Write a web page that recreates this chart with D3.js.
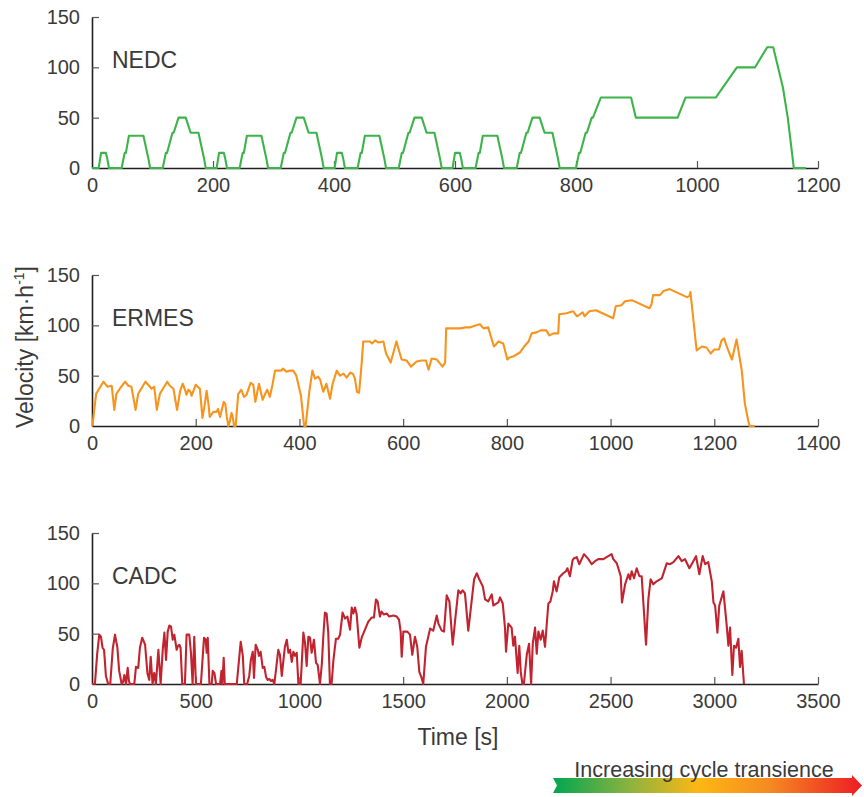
<!DOCTYPE html>
<html>
<head>
<meta charset="utf-8">
<script src="https://cdn.jsdelivr.net/npm/d3@7"></script>
<style>
  html, body { margin: 0; padding: 0; background: #fff; }
  svg { display: block; }
  text { font-family: "Liberation Sans", Arial, sans-serif; fill: #3a3a3a; }
</style>
</head>
<body>
<svg id="chart" width="864" height="797"></svg>
<script>
// ---------------- DATA ----------------
const cycleNames = ["NEDC", "ERMES", "CADC"];
const xMaxima = [1200, 1400, 3500];
const xTicksNEDC = [0, 200, 400, 600, 800, 1000, 1200];
const xTicksERMES = [0, 200, 400, 600, 800, 1000, 1200, 1400];
const xTicksCADC = [0, 500, 1000, 1500, 2000, 2500, 3000, 3500];
const yTicks = [0, 50, 100, 150];
const yMax = 150;
const xAxisTitle = "Time [s]";
const yAxisTitle = "Velocity [km·h";
const yAxisTitleSup = "-1";
const arrowLabel = "Increasing cycle transience";

// NEDC: [time s, speed km/h]
const nedc = [
  [0,0],[11,0],[15,15],[23,15],[25,10],[28,0],[49,0],[54,15],[56,15],[61,32],[85,32],[93,10],[96,0],
  [117,0],[122,15],[124,15],[133,35],[135,35],[143,50],[155,50],[163,35],[176,35],[185,10],[188,0],[195,0],
  [206,0],[210,15],[218,15],[220,10],[223,0],[244,0],[249,15],[251,15],[256,32],[280,32],[288,10],[291,0],
  [312,0],[317,15],[319,15],[328,35],[330,35],[338,50],[350,50],[358,35],[371,35],[380,10],[383,0],[390,0],
  [401,0],[405,15],[413,15],[415,10],[418,0],[439,0],[444,15],[446,15],[451,32],[475,32],[483,10],[486,0],
  [507,0],[512,15],[514,15],[523,35],[525,35],[533,50],[545,50],[553,35],[566,35],[575,10],[578,0],[585,0],
  [596,0],[600,15],[608,15],[610,10],[613,0],[634,0],[639,15],[641,15],[646,32],[670,32],[678,10],[681,0],
  [702,0],[707,15],[709,15],[718,35],[720,35],[728,50],[740,50],[748,35],[761,35],[770,10],[773,0],[780,0],
  [800,0],[805,15],[807,15],[816,35],[818,35],[826,50],[828,50],[841,70],[891,70],[899,50],[968,50],
  [981,70],[1031,70],[1066,100],[1096,100],[1116,120],[1126,120],[1142,80],[1150,50],[1160,0],[1180,0]
];

// ERMES: [time s, speed km/h]
const ermes = [
  [0,0],[1,1],[8,32],[15,38],[22,44],[30,39],[38,40],[43,16],[47,32],[55,38],[64,44],[70,40],[76,39],[84,16],
  [89,32],[96,38],[103,44],[110,40],[115,37],[120,39],[125,16],[131,32],[138,38],[145,44],[150,40],[157,37],
  [164,16],[170,35],[175,42],[180,35],[182,31],[186,36],[189,35],[192,30],[200,41],[208,37],[213,8],[217,20],
  [221,35],[225,20],[227,9],[234,14],[240,14],[243,17],[247,9],[254,24],[257,22],[260,9],[263,0],[266,5],
  [269,13],[271,10],[274,0],[277,0],[282,32],[288,36],[293,29],[298,31],[306,43],[311,41],[315,24],[322,42],
  [329,26],[335,33],[338,36],[343,29],[348,41],[353,55],[365,55],[368,57],[375,54],[382,55],[388,55],[394,50],
  [403,30],[409,0],[412,0],[419,34],[425,55],[430,47],[436,49],[440,46],[446,34],[452,42],[459,27],[464,42],
  [472,55],[478,50],[485,52],[491,48],[498,53],[503,52],[507,47],[511,34],[515,33],[520,62],[523,84],[536,84],
  [540,82],[546,85],[552,83],[562,84],[567,72],[576,63],[587,84],[597,66],[607,65],[615,59],[626,64],[636,65],
  [644,65],[649,56],[655,67],[665,66],[676,59],[681,63],[683,97],[710,97],[720,98],[730,98],[741,100],[748,101],
  [755,97],[764,98],[775,79],[784,84],[793,82],[801,66],[805,68],[812,69],[825,73],[835,80],[842,84],[848,92],
  [857,93],[865,95],[876,95],[882,90],[890,92],[899,92],[901,111],[915,112],[928,114],[935,109],[941,111],
  [946,113],[950,109],[959,114],[972,115],[1005,107],[1010,119],[1021,120],[1028,124],[1041,125],[1075,117],
  [1079,121],[1082,130],[1095,130],[1102,134],[1114,136],[1147,128],[1152,129],[1154,133],[1166,75],[1176,79],
  [1185,78],[1193,72],[1200,76],[1209,76],[1214,85],[1219,87],[1224,79],[1234,66],[1243,86],[1253,55],
  [1259,22],[1266,4],[1268,0],[1278,0]
];

// CADC: [time s, speed km/h]
const cadc = [
  [0,0],[14,0],[25,30],[35,49],[43,47],[51,36],[58,34],[63,20],[67,8],[78,0],[88,0],[100,35],[111,49],[117,42],
  [122,37],[131,13],[143,0],[150,2],[156,9],[160,5],[164,0],[172,16],[178,3],[183,0],[204,0],[212,17],[223,16],
  [231,36],[242,46],[250,42],[256,39],[267,11],[276,4],[283,27],[292,0],[300,11],[308,0],[320,34],[331,0],
  [341,34],[349,51],[357,24],[365,52],[373,58],[381,57],[389,44],[397,49],[408,34],[415,38],[421,39],[427,36],
  [435,0],[448,0],[456,49],[469,49],[477,31],[485,0],[493,47],[501,0],[525,0],[540,46],[548,44],[553,31],
  [558,46],[566,0],[577,0],[582,13],[590,11],[598,0],[617,0],[624,13],[628,0],[635,26],[640,0],[698,0],
  [706,18],[717,42],[727,28],[734,0],[748,0],[758,8],[766,24],[775,32],[781,6],[789,39],[799,34],[805,28],
  [813,32],[823,16],[831,17],[839,7],[847,4],[855,5],[863,3],[871,4],[879,0],[887,14],[898,34],[906,29],
  [915,8],[922,22],[930,37],[939,44],[947,31],[955,34],[963,22],[971,32],[979,28],[987,31],[995,0],[1006,0],
  [1019,51],[1027,41],[1035,18],[1043,47],[1051,46],[1059,31],[1070,44],[1080,21],[1088,19],[1099,0],[1108,20],
  [1115,47],[1123,71],[1131,70],[1139,51],[1147,0],[1155,0],[1164,24],[1176,45],[1187,45],[1196,49],[1208,71],
  [1220,65],[1231,67],[1244,54],[1252,76],[1260,70],[1268,76],[1276,69],[1289,36],[1300,46],[1316,54],
  [1332,62],[1348,66],[1359,66],[1369,84],[1377,82],[1388,67],[1396,72],[1407,69],[1421,70],[1433,67],
  [1453,68],[1469,67],[1480,64],[1488,52],[1493,27],[1501,52],[1520,52],[1533,49],[1544,29],[1557,47],
  [1568,37],[1578,12],[1589,6],[1597,0],[1610,37],[1630,55],[1645,53],[1662,68],[1670,60],[1686,53],
  [1697,52],[1710,88],[1723,82],[1739,39],[1750,62],[1766,93],[1777,90],[1787,93],[1798,90],[1814,53],
  [1825,73],[1842,104],[1855,110],[1867,104],[1884,97],[1895,84],[1910,82],[1927,89],[1935,78],[1951,80],
  [1959,81],[1967,86],[1980,80],[1991,56],[1996,32],[2007,60],[2023,56],[2031,38],[2039,47],[2052,11],
  [2060,38],[2067,12],[2075,0],[2082,0],[2096,29],[2107,40],[2117,0],[2125,40],[2136,56],[2144,30],[2152,52],
  [2163,44],[2173,53],[2184,37],[2200,80],[2210,82],[2221,92],[2227,102],[2240,92],[2253,106],[2272,110],
  [2285,112],[2292,115],[2304,107],[2317,123],[2324,125],[2337,126],[2349,119],[2372,129],[2393,124],
  [2409,119],[2425,122],[2441,124],[2465,124],[2481,126],[2505,129],[2513,124],[2530,120],[2549,107],
  [2555,81],[2570,99],[2586,109],[2594,104],[2602,112],[2613,105],[2626,115],[2639,107],[2650,107],[2671,39],
  [2682,84],[2693,104],[2706,99],[2722,102],[2747,105],[2771,120],[2787,119],[2803,121],[2827,127],[2843,122],
  [2859,124],[2880,115],[2891,119],[2912,127],[2928,109],[2944,127],[2956,119],[2971,121],[2988,102],
  [2996,81],[3004,78],[3015,51],[3024,78],[3044,92],[3060,58],[3068,38],[3076,56],[3087,9],[3095,38],
  [3105,36],[3116,45],[3124,17],[3132,33],[3143,0]
];

const seriesData = [nedc, ermes, cadc];
const seriesTicks = [xTicksNEDC, xTicksERMES, xTicksCADC];
const seriesColors = ["#3cb44b", "#f7941d", "#c1232f"];

// ---------------- LAYOUT ----------------
const svg = d3.select("#chart");
const left = 92, right = 818;
const panelTops = [17, 275, 533];
const panelHeight = 151;
const axisColor = "#231f20";

cycleNames.forEach((name, i) => {
  const top = panelTops[i];
  const x = d3.scaleLinear().domain([0, xMaxima[i]]).range([left, right]);
  const y = d3.scaleLinear().domain([0, yMax]).range([top + panelHeight, top]);

  const g = svg.append("g");

  const xa = g.append("g")
    .attr("transform", `translate(0,${top + panelHeight})`)
    .call(d3.axisBottom(x).tickValues(seriesTicks[i]).tickFormat(d3.format("d"))
      .tickSizeInner(-7).tickSizeOuter(0).tickPadding(10));
  const ya = g.append("g")
    .attr("transform", `translate(${left},0)`)
    .call(d3.axisLeft(y).tickValues(yTicks).tickFormat(d3.format("d"))
      .tickSizeInner(-7).tickSizeOuter(0).tickPadding(12));

  [xa, ya].forEach(a => {
    a.select(".domain").attr("stroke", axisColor).attr("stroke-width", 1.6);
    a.selectAll(".tick line").attr("stroke", "#555").attr("stroke-width", 1.2);
    a.selectAll(".tick text")
      .style("font-family", '"Liberation Sans", Arial, sans-serif')
      .style("font-size", "20px")
      .attr("fill", "#3a3a3a");
  });
  xa.selectAll(".tick").filter(d => d === 0).select("line").remove();
  ya.selectAll(".tick").filter(d => d === 0).select("line").remove();

  const line = d3.line().x(d => x(d[0])).y(d => y(d[1]));
  g.append("path")
    .datum(seriesData[i])
    .attr("fill", "none")
    .attr("stroke", seriesColors[i])
    .attr("stroke-width", 2.1)
    .attr("stroke-linejoin", "round")
    .attr("d", line);

  g.append("text")
    .attr("x", 112)
    .attr("y", top + 51)
    .style("font-size", "23px")
    .text(name);
});

// axis titles
svg.append("text")
  .attr("x", 458).attr("y", 745)
  .attr("text-anchor", "middle")
  .style("font-size", "23px")
  .text(xAxisTitle);

const yt = svg.append("text")
  .attr("transform", "translate(33,347) rotate(-90)")
  .attr("text-anchor", "middle")
  .style("font-size", "23px");
yt.append("tspan").text(yAxisTitle);
yt.append("tspan").attr("dy", -9).style("font-size", "14px").text(yAxisTitleSup);
yt.append("tspan").attr("dy", 9).text("]");

// transience arrow
const defs = svg.append("defs");
const grad = defs.append("linearGradient").attr("id", "transGrad")
  .attr("x1", "0%").attr("x2", "100%").attr("y1", "0%").attr("y2", "0%");
grad.append("stop").attr("offset", "0%").attr("stop-color", "#00a651");
grad.append("stop").attr("offset", "25%").attr("stop-color", "#8db33f");
grad.append("stop").attr("offset", "47%").attr("stop-color", "#fdb714");
grad.append("stop").attr("offset", "70%").attr("stop-color", "#f58a22");
grad.append("stop").attr("offset", "100%").attr("stop-color", "#ed1c24");

const ax0 = 553, ax1 = 862, ayTop = 778, ayBot = 793, ayMid = 785.5, headX = 852;
svg.append("path")
  .attr("d", `M${ax0},${ayTop} L${headX},${ayTop} L${headX},${ayTop - 3} L${ax1},${ayMid} L${headX},${ayBot + 3} L${headX},${ayBot} L${ax0},${ayBot} L${ax0 + 4},${ayMid} Z`)
  .attr("fill", "url(#transGrad)");

svg.append("text")
  .attr("x", 704).attr("y", 777)
  .attr("text-anchor", "middle")
  .style("font-size", "21.5px")
  .text(arrowLabel);
</script>
</body>
</html>
